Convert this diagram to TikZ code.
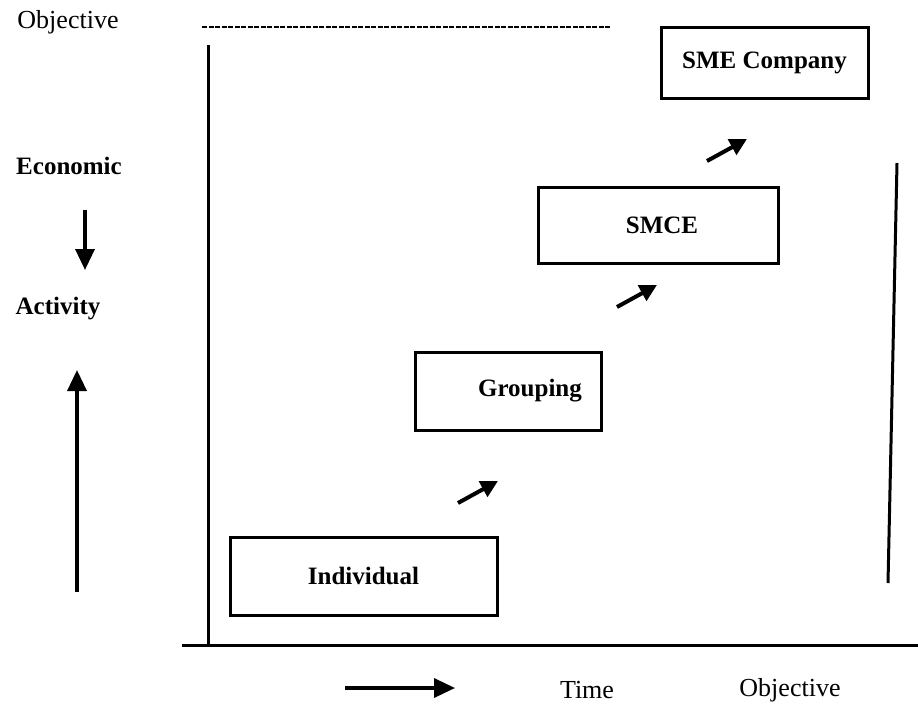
\documentclass[tikz,border=0pt]{standalone}
\usepackage{fontspec}
\setmainfont{Liberation Serif}
\usetikzlibrary{arrows.meta}
\begin{document}
\begin{tikzpicture}[x=1pt,y=-1pt,
  stagebox/.style={draw,line width=3pt,rectangle,inner sep=0pt,font=\fontsize{25}{29}\selectfont\bfseries},
  lbl/.style={inner sep=0pt,font=\fontsize{26}{30}\selectfont},
  blbl/.style={inner sep=0pt,font=\fontsize{25}{29}\selectfont\bfseries},
  axisline/.style={line width=3pt},
  dashline/.style={line width=1.8pt,dash pattern=on 5pt off 1.5pt},
  steparrow/.style={line width=4pt,-{Triangle[length=17pt,width=17pt]}},
  bigarrow/.style={line width=3.5pt,-{Triangle[length=21pt,width=19pt]}},
  ]
\useasboundingbox (0,0) rectangle (918,707);
% texts on the left
\node[lbl]  (obj1) at (68,22)  {Objective};
\node[blbl] (econ) at (69,166) {Economic};
\node[blbl] (act)  at (58,309) {Activity};
% vertical arrows on the left
\coordinate (dA) at (85,210);
\coordinate (dB) at (85,270);
\draw[bigarrow] (dA) -- (dB);
\coordinate (uA) at (77,592);
\coordinate (uB) at (77,370);
\draw[bigarrow] (uA) -- (uB);
% frame
\coordinate (dl1) at (202,27);
\coordinate (dl2) at (610,27);
\draw[dashline] (dl1) -- (dl2);
\coordinate (lv1) at (208,45);
\coordinate (lv2) at (208,645);
\coordinate (bh1) at (182,645);
\coordinate (bh2) at (918,645);
\draw[axisline] (lv1) -- (lv2);
\draw[axisline] (bh1) -- (bh2);
\coordinate (rv1) at (897,163);
\coordinate (rv2) at (888,583);
\draw[axisline] (rv1) -- (rv2);
% stage boxes
\node[stagebox,minimum width=267pt,minimum height=78pt] (ind) at (363.5,576) {Individual};
\node[stagebox,minimum width=186pt,minimum height=78pt] (grp) at (508,391) {\hspace*{44pt}Grouping};
\node[stagebox,minimum width=240pt,minimum height=76pt] (smce) at (658,225) {\hspace*{8pt}SMCE};
\node[stagebox,minimum width=207pt,minimum height=71pt] (sme) at (764.5,62.5) {SME Company};
% small step arrows
\coordinate (s1a) at (458,503);
\coordinate (s1b) at (498,481);
\draw[steparrow] (s1a) -- (s1b);
\coordinate (s2a) at (617,307);
\coordinate (s2b) at (657,285);
\draw[steparrow] (s2a) -- (s2b);
\coordinate (s3a) at (707,161);
\coordinate (s3b) at (747,139);
\draw[steparrow] (s3a) -- (s3b);
% bottom
\coordinate (tA) at (345,688);
\coordinate (tB) at (455,688);
\draw[bigarrow] (tA) -- (tB);
\node[lbl] (time) at (587,690) {Time};
\node[lbl] (obj2) at (790,690) {Objective};
\end{tikzpicture}
\end{document}
